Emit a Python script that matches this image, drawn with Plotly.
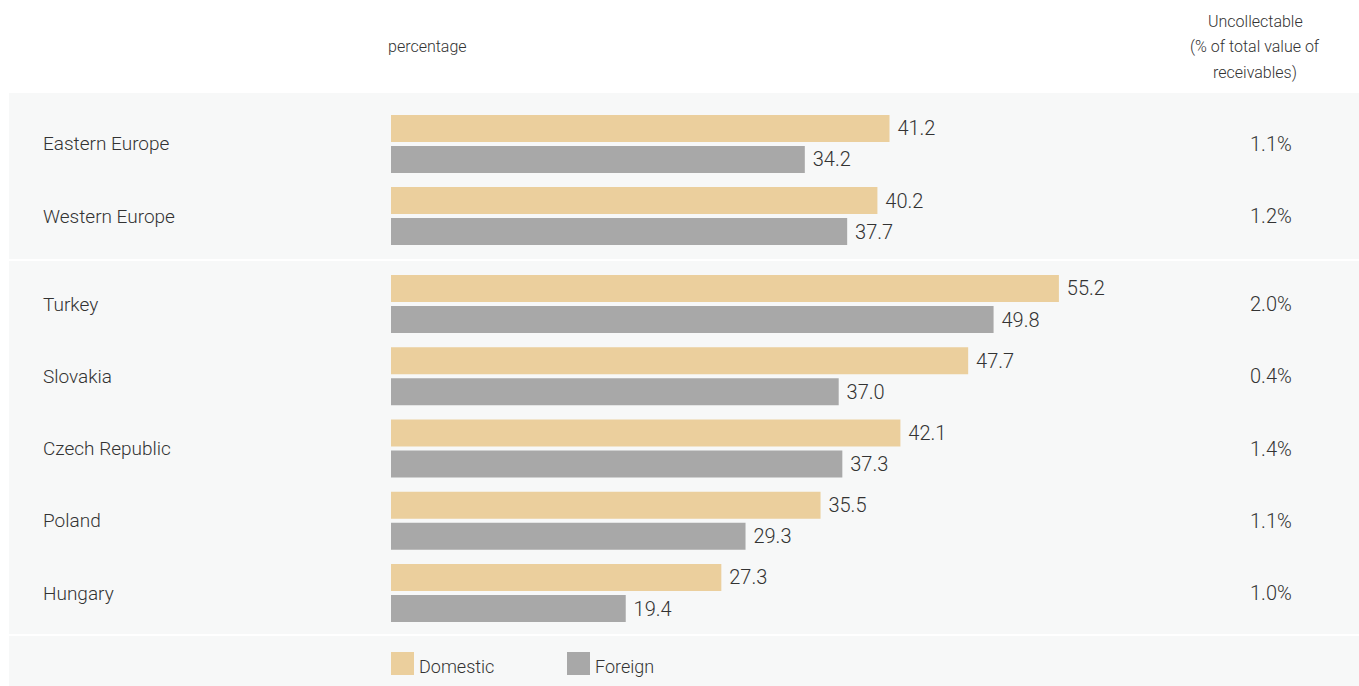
import plotly.graph_objects as go

# ---- data ----
regions = ["Eastern Europe", "Western Europe"]
region_domestic = [41.2, 40.2]
region_foreign = [34.2, 37.7]
region_uncollectable = ["1.1%", "1.2%"]

countries = ["Turkey", "Slovakia", "Czech Republic", "Poland", "Hungary"]
country_domestic = [55.2, 47.7, 42.1, 35.5, 27.3]
country_foreign = [49.8, 37.0, 37.3, 29.3, 19.4]
country_uncollectable = ["2.0%", "0.4%", "1.4%", "1.1%", "1.0%"]

series_names = ["Domestic", "Foreign"]
series_colors = ["#EBCF9D", "#A8A8A8"]

header_lines = ["Uncollectable", "(% of total value of", "receivables)"]

W, H = 1359, 686
FONT = "Roboto, sans-serif"
TXT = "#333333"
WT = 300


def px(x):
    return x / W


def py(y):
    return 1 - y / H


def f(size):
    return dict(family=FONT, size=size, color=TXT, weight=WT)


fig = go.Figure()

panels = [
    ("x", "y", regions, region_domestic, region_foreign, region_uncollectable),
    ("x2", "y2", countries, country_domestic, country_foreign, country_uncollectable),
]
for xa, ya, cats, dom, forn, unc in panels:
    for name, vals, col in zip(series_names, [dom, forn], series_colors):
        fig.add_trace(go.Bar(
            y=cats, x=vals, orientation="h", name=name,
            marker=dict(color=col, line=dict(width=0)),
            text=vals, texttemplate=" %{x:.1f}", textposition="outside",
            textfont=f(20),
            cliponaxis=False, xaxis=xa, yaxis=ya, showlegend=False,
            hoverinfo="skip",
        ))
    for c, u in zip(cats, unc):
        fig.add_annotation(x=px(41), xref="paper", xanchor="left", y=c, yref=ya,
                           text=c, showarrow=False, font=f(19))
        fig.add_annotation(x=px(1271), xref="paper", xanchor="center", y=c, yref=ya,
                           text=u, showarrow=False, font=f(20))

xr = [0, (W - 391) / 12.1]
axis_x = dict(range=xr, visible=False, domain=[px(391), 1], fixedrange=True)
fig.update_layout(
    width=W, height=H,
    margin=dict(l=0, r=0, t=0, b=0),
    paper_bgcolor="white", plot_bgcolor="rgba(0,0,0,0)",
    barmode="group", bargap=0.139, bargroupgap=0.129,
    xaxis=dict(**axis_x, anchor="y"),
    xaxis2=dict(**axis_x, anchor="y2"),
    yaxis=dict(domain=[py(260), py(93)], range=[1.611, -0.708], visible=False,
               type="category", anchor="x"),
    yaxis2=dict(domain=[py(635), py(260)], range=[4.581, -0.609], visible=False,
                type="category", anchor="x2"),
    font=dict(family=FONT, color=TXT),
)

# background band and separators
fig.add_shape(type="rect", xref="paper", yref="paper", x0=px(9), x1=1, y0=0, y1=py(93),
              fillcolor="#F7F8F8", line=dict(width=0), layer="below")
for yy in (260, 635):
    fig.add_shape(type="line", xref="paper", yref="paper", x0=px(9), x1=1,
                  y0=py(yy), y1=py(yy), line=dict(color="white", width=2), layer="below")

# header texts
fig.add_annotation(x=px(386), xref="paper", xanchor="left", y=py(47), yref="paper",
                   yanchor="middle", text="percentage", showarrow=False, font=f(16))
for i, line in enumerate(header_lines):
    fig.add_annotation(x=px(1255), xref="paper", xanchor="center", y=py(22 + 25 * i),
                       yref="paper", yanchor="middle", text=line,
                       showarrow=False, font=f(16))

# legend (manual)
for name, col, x0 in zip(series_names, series_colors, [391, 567]):
    fig.add_shape(type="rect", xref="paper", yref="paper", x0=px(x0), x1=px(x0 + 23),
                  y0=py(675), y1=py(652), fillcolor=col, line=dict(width=0))
    fig.add_annotation(x=px(x0 + 26), xref="paper", xanchor="left", y=py(666), yref="paper",
                       yanchor="middle", text=name, showarrow=False, font=f(18))

fig.write_html("out.html", config={"displayModeBar": False},
               post_script="document.body.style.margin='0';")
